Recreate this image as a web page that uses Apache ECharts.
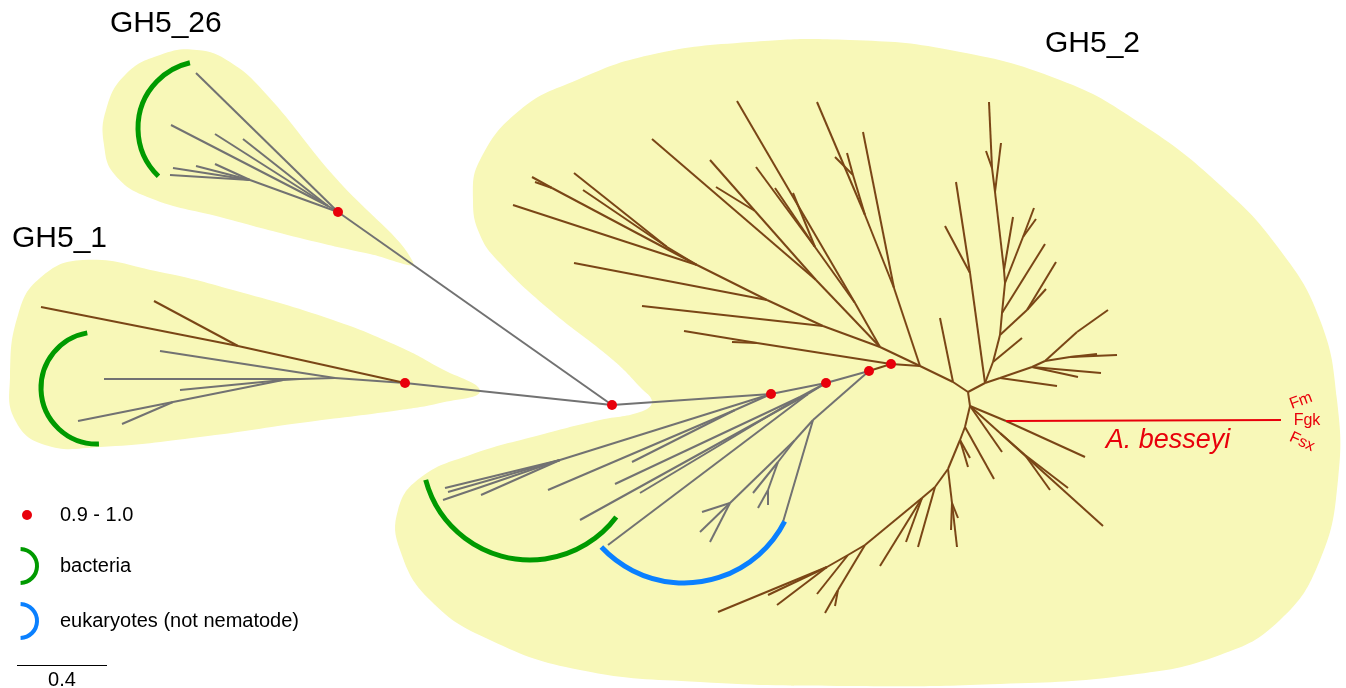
<!DOCTYPE html>
<html>
<head>
<meta charset="utf-8">
<script src="https://cdn.jsdelivr.net/npm/echarts@6/dist/echarts.min.js"></script>
<style>
  html, body { margin: 0; padding: 0; background: #ffffff; }
  #chart { width: 1346px; height: 688px; }
</style>
</head>
<body>
<div id="chart"></div>
<script>
// Unrooted GH5 phylogeny. Node positions are layout coordinates of the
// unrooted tree, centred on the node joining the three subfamilies.
// 90 layout units correspond to 0.4 substitutions per site.
const SUBST_PER_UNIT = 0.4 / 90;
const SCALE_BAR_SUBST = 0.4;

// [node, parent, x, y]
const rootNode = ['C0', null, 0, 0];

const gh5_26Nodes = [
  ['R26', 'C0', -274, 193],
  ['t26a', 'R26', -416, 332],
  ['n26a', 'R26', -284, 199],
  ['t26b', 'n26a', -441, 280],
  ['t26c', 'n26a', -397, 271],
  ['t26d', 'n26a', -369, 266],
  ['n26b', 'R26', -362, 225],
  ['t26e', 'n26b', -439, 237],
  ['t26f', 'n26b', -416, 239],
  ['t26g', 'n26b', -397, 241],
  ['t26h', 'n26b', -442, 230]
];

const gh5_1GrayNodes = [
  ['R1', 'C0', -207, 22],
  ['g1a', 'R1', -277, 27],
  ['t1a', 'g1a', -452, 54],
  ['g1b', 'g1a', -312, 26],
  ['t1b', 'g1b', -508, 26],
  ['g1c', 'g1b', -329, 25],
  ['t1c', 'g1c', -432, 15],
  ['g1d', 'g1c', -439, 3],
  ['t1d', 'g1d', -534, -16],
  ['t1e', 'g1d', -490, -19]
];

const gh5_1BrownNodes = [
  ['b1a', 'R1', -374, 59],
  ['t1f', 'b1a', -571, 98],
  ['t1g', 'b1a', -458, 104]
];

const gh5_2GrayNodes = [
  ['R2a', 'C0', 159, 11],
  ['x2a', 'R2a', -52, -55],
  ['t2a', 'x2a', -167, -83],
  ['t2b', 'x2a', -164, -87],
  ['t2c', 'x2a', -169, -95],
  ['t2d', 'x2a', -131, -90],
  ['x2b', 'R2a', 123, -5],
  ['t2e', 'x2b', -64, -85],
  ['t2f', 'x2b', 20, -57],
  ['R2b', 'R2a', 214, 22],
  ['z2a', 'R2b', 196, 11],
  ['t2g', 'z2a', -32, -115],
  ['t2h', 'z2a', -4, -140],
  ['z2b', 'R2b', 188, 8],
  ['t2i', 'z2b', 3, -79],
  ['t2j', 'z2b', 28, -88],
  ['R2c', 'R2b', 257, 34],
  ['y2a', 'R2c', 201, -15],
  ['t2k', 'y2a', 171, -117],
  ['y2b', 'y2a', 183, -35],
  ['y2c', 'y2b', 166, -57],
  ['t2l', 'y2c', 141, -88],
  ['y2d', 'y2c', 156, -85],
  ['t2m', 'y2d', 156, -100],
  ['t2n', 'y2d', 146, -103],
  ['y2e', 'y2b', 118, -98],
  ['t2o', 'y2e', 90, -107],
  ['t2p', 'y2e', 88, -127],
  ['t2q', 'y2e', 98, -137]
];

const gh5_2BrownNodes = [
  ['R2d', 'R2c', 279, 41],
  ['nA', 'R2d', 145, 62],
  ['u1', 'nA', 72, 74],
  ['u2', 'nA', 120, 63],
  ['nB', 'R2d', 308, 39],
  ['s1', 'nB', 268, 58],
  ['s2', 's1', 211, 79],
  ['u3', 's2', 30, 99],
  ['s3', 's2', 155, 105],
  ['u4', 's3', -38, 142],
  ['s4', 's3', 85, 140],
  ['u5', 's4', -99, 200],
  ['v2', 's4', -60, 217],
  ['u6', 'v2', -80, 228],
  ['u7', 'v2', -77, 223],
  ['v1', 's4', 55, 158],
  ['u8', 'v1', -38, 232],
  ['u9', 'v1', -29, 215],
  ['a1', 's1', 204, 125],
  ['u10', 'a1', 40, 266],
  ['b1', 'a1', 143, 194],
  ['u11', 'b1', 98, 245],
  ['u12', 'b1', 104, 218],
  ['d1', 's1', 243, 102],
  ['u13', 'd1', 125, 304],
  ['e1', 'd1', 203, 158],
  ['u14', 'e1', 144, 238],
  ['u15', 'e1', 163, 217],
  ['u16', 'e1', 181, 212],
  ['g1', 'nB', 282, 117],
  ['u17', 'g1', 251, 273],
  ['h1', 'g1', 253, 190],
  ['u18', 'h1', 205, 303],
  ['h2', 'h1', 241, 230],
  ['u19', 'h2', 223, 248],
  ['u20', 'h2', 235, 252],
  ['k1', 'nB', 341, 23],
  ['u21', 'k1', 328, 87],
  ['G0', 'k1', 356, 13],
  ['M0', 'G0', 373, 22],
  ['p1', 'M0', 358, 132],
  ['u22', 'p1', 344, 223],
  ['u23', 'p1', 333, 179],
  ['q1', 'M0', 381, 43],
  ['u24', 'q1', 410, 67],
  ['q2', 'q1', 388, 70],
  ['q2a', 'q2', 415, 95],
  ['u25', 'q2a', 444, 143],
  ['u26', 'q2a', 434, 116],
  ['q3', 'q2', 390, 92],
  ['u27', 'q3', 433, 161],
  ['q4', 'q3', 393, 122],
  ['q4a', 'q4', 411, 168],
  ['u28', 'q4a', 422, 197],
  ['u29', 'q4a', 424, 186],
  ['q5', 'q4', 392, 135],
  ['u30', 'q5', 401, 188],
  ['q6', 'q5', 383, 213],
  ['u31', 'q6', 389, 262],
  ['q7', 'q6', 380, 237],
  ['u32', 'q7', 377, 303],
  ['u33', 'q7', 374, 254],
  ['r1', 'M0', 388, 27],
  ['u34', 'r1', 445, 19],
  ['r2', 'r1', 420, 38],
  ['u35', 'r2', 489, 32],
  ['u36', 'r2', 466, 28],
  ['r3', 'r2', 433, 44],
  ['r3a', 'r3', 458, 48],
  ['u37', 'r3a', 505, 50],
  ['u38', 'r3a', 485, 51],
  ['r4', 'r3', 465, 73],
  ['u39', 'r4', 496, 95],
  ['L0', 'G0', 358, -1],
  ['nAb', 'L0', 394, -16],
  ['u40', 'nAb', 473, -52],
  ['u41', 'L0', 390, -47],
  ['w1', 'L0', 388, -28],
  ['u42', 'w1', 491, -121],
  ['w2', 'w1', 413, -50],
  ['u43', 'w2', 456, -83],
  ['u44', 'w2', 438, -85],
  ['m1', 'L0', 353, -22],
  ['u45', 'm1', 382, -74],
  ['m2', 'm1', 348, -35],
  ['u46', 'm2', 358, -53],
  ['u47', 'm2', 356, -62],
  ['m3', 'm2', 336, -64],
  ['m3a', 'm3', 340, -98],
  ['u48', 'm3a', 345, -142],
  ['u49', 'm3a', 339, -125],
  ['u50', 'm3a', 346, -113],
  ['m4', 'm3', 323, -82],
  ['u51', 'm4', 306, -142],
  ['m5', 'm4', 310, -93],
  ['u52', 'm5', 294, -137],
  ['u53', 'm5', 268, -161],
  ['m6', 'm5', 253, -140],
  ['m6a', 'm6', 226, -185],
  ['u54', 'm6a', 213, -208],
  ['u55', 'm6a', 223, -201],
  ['m7', 'm6', 236, -150],
  ['u56', 'm7', 205, -189],
  ['m8', 'm7', 215, -162],
  ['u57', 'm8', 106, -207],
  ['u58', 'm8', 165, -200],
  ['u59', 'm8', 156, -190]
];

// Aphelenchoides besseyi sequences (Fm, Fgk, Fsx share one branch)
const besseyiNodes = [
  ['Abes', 'nAb', 669, -15]
];
const besseyiStrains = ['Fm', 'Fgk', 'Fsx'];

// Nodes with posterior support 0.9 - 1.0
const supportedNodes = ['R26', 'R1', 'C0', 'R2a', 'R2b', 'R2c', 'R2d'];

// Subfamily names
const cladeNames = ['GH5_26', 'GH5_1', 'GH5_2'];

// Shaded subfamily outlines, same layout units
const hullGH5_26 = [
  [-199, 143], [-279, 230], [-345, 310], [-382, 343], [-415, 355], [-452, 350],
  [-487, 330], [-506, 295], [-508, 260], [-497, 230], [-462, 207], [-392, 188],
  [-312, 167], [-242, 151]
];
const hullGH5_1 = [
  [-529, 145], [-452, 133], [-379, 115], [-279, 85], [-212, 58], [-172, 37],
  [-132, 14], [-172, 2], [-212, -5], [-312, -18], [-412, -32], [-512, -42],
  [-567, -40], [-597, -15], [-602, 28], [-594, 90], [-572, 127]
];
const hullGH5_2 = [
  [-35, 325], [38, 350], [138, 363], [238, 365], [338, 355], [448, 325],
  [528, 282], [608, 220], [668, 155], [708, 85], [725, 5], [726, -75],
  [708, -155], [668, -215], [608, -250], [518, -270], [388, -279], [238, -281],
  [88, -277], [-32, -265], [-122, -235], [-182, -195], [-212, -145], [-214, -105],
  [-192, -73], [-142, -50], [-72, -30], [-12, -15], [28, -7], [40, 3],
  [28, 18], [1, 45], [-62, 95], [-112, 142], [-132, 170], [-139, 205],
  [-132, 245], [-92, 295]
];

// Clade brackets: [centre x, centre y, radius, start angle, end angle] (screen degrees)
const bacteriaArcs = [
  [-407, 277, 67, 134, 257],
  [-515, 17, 56, 88, 260],
  [-82, -47, 108, 37, 165]
];
const eukaryoteArcs = [
  [72, -65, 113, 27, 137]
];

// ---------------------------------------------------------------------------
const GRAY = '#727272';
const BROWN = '#7a4616';
const RED = '#e8000b';
const GREEN = '#009a00';
const BLUE = '#0a80ff';
const HULL_FILL = '#f8f8b8';
const FONT = '"Liberation Sans", Arial, Helvetica, sans-serif';

const allNodes = [rootNode].concat(gh5_26Nodes, gh5_1GrayNodes, gh5_1BrownNodes,
  gh5_2GrayNodes, gh5_2BrownNodes, besseyiNodes);
const pos = {};
allNodes.forEach(n => { pos[n[0]] = [n[2], n[3]]; });

function edgesOf(nodes) {
  return nodes.map(n => ({ coords: [pos[n[1]], pos[n[0]]] }));
}

const grayEdges = edgesOf(gh5_26Nodes).concat(edgesOf(gh5_1GrayNodes), edgesOf(gh5_2GrayNodes));
const brownEdges = edgesOf(gh5_1BrownNodes).concat(edgesOf(gh5_2BrownNodes));
const redEdges = edgesOf(besseyiNodes);

const hulls = [hullGH5_26, hullGH5_1, hullGH5_2];

// Legend / annotation layout (layout units)
const legendX = -585;
const legendTextX = -552;
const legendRows = [-110, -161, -216];
const scaleBarY = -260;
const scaleBarX0 = -595;
const scaleBarLen = SCALE_BAR_SUBST / SUBST_PER_UNIT;

const besseyiTip = pos['Abes'];
const textMarks = [
  { text: cladeNames[0], at: [-502, 381], size: 30, color: '#000', align: 'left' },
  { text: cladeNames[1], at: [-600, 166], size: 30, color: '#000', align: 'left' },
  { text: cladeNames[2], at: [433, 361], size: 30, color: '#000', align: 'left' },
  { text: 'A. besseyi', at: [556, -35], size: 27, color: RED, align: 'center', italic: true },
  { text: besseyiStrains[0], at: [besseyiTip[0] + 20, besseyiTip[1] + 19], size: 16, color: RED, align: 'center', rot: 20 },
  { text: besseyiStrains[1], at: [besseyiTip[0] + 26, besseyiTip[1] - 1], size: 16, color: RED, align: 'center' },
  { text: besseyiStrains[2], at: [besseyiTip[0] + 21, besseyiTip[1] - 22], size: 16, color: RED, align: 'center', rot: -25 },
  { text: '0.9 - 1.0', at: [legendTextX, legendRows[0]], size: 20, color: '#000', align: 'left' },
  { text: 'bacteria', at: [legendTextX, legendRows[1]], size: 20, color: '#000', align: 'left' },
  { text: 'eukaryotes (not nematode)', at: [legendTextX, legendRows[2]], size: 20, color: '#000', align: 'left' },
  { text: String(SCALE_BAR_SUBST), at: [scaleBarX0 + scaleBarLen / 2, scaleBarY - 15], size: 20, color: '#000', align: 'center' }
];

const legendArcs = [
  [legendX - 7, legendRows[1], 17, -88, 88, GREEN],
  [legendX - 7, legendRows[2], 17, -88, 88, BLUE]
];

const arcItems = bacteriaArcs.map(a => a.concat([GREEN]))
  .concat(eukaryoteArcs.map(a => a.concat([BLUE])));

const chart = echarts.init(document.getElementById('chart'), null, { renderer: 'canvas' });

function lineSeries(data, color, width, z) {
  return {
    type: 'lines', coordinateSystem: 'cartesian2d', data: data, silent: true, z: z,
    polyline: false, animation: false,
    lineStyle: { color: color, width: width, opacity: 1, curveness: 0 }
  };
}

function arcSeries(items, width) {
  return {
    type: 'custom', coordinateSystem: 'cartesian2d', silent: true, z: 4, animation: false,
    data: items.map((a, i) => [a[0], a[1], i]),
    renderItem: function (params, api) {
      const a = items[api.value(2)];
      const c = api.coord([a[0], a[1]]);
      const r = api.size([a[2], 0])[0];
      return {
        type: 'arc',
        shape: { cx: c[0], cy: c[1], r: r, startAngle: a[3] * Math.PI / 180, endAngle: a[4] * Math.PI / 180, clockwise: true },
        style: { stroke: a[5], lineWidth: width, fill: null }
      };
    }
  };
}

const option = {
  backgroundColor: '#ffffff',
  animation: false,
  grid: { left: 0, right: 0, top: 0, bottom: 0 },
  xAxis: { type: 'value', min: -612, max: 734, show: false },
  yAxis: { type: 'value', min: -283, max: 405, show: false },
  series: [
    {
      type: 'custom', coordinateSystem: 'cartesian2d', silent: true, z: 1, animation: false,
      data: hulls.map((h, i) => [h[0][0], h[0][1], i]),
      renderItem: function (params, api) {
        const pts = hulls[api.value(2)].map(p => api.coord(p));
        return { type: 'polygon', shape: { points: pts, smooth: 0.45 }, style: { fill: HULL_FILL } };
      }
    },
    lineSeries(grayEdges, GRAY, 2, 2),
    lineSeries(brownEdges, BROWN, 2, 2),
    lineSeries(redEdges, RED, 2, 3),
    lineSeries([{ coords: [[scaleBarX0, scaleBarY], [scaleBarX0 + scaleBarLen, scaleBarY]] }], '#000', 1, 3),
    arcSeries(arcItems, 5),
    arcSeries(legendArcs, 4),
    {
      type: 'scatter', silent: true, z: 5, animation: false,
      symbol: 'circle', symbolSize: 10,
      itemStyle: { color: RED, opacity: 1 },
      data: supportedNodes.map(id => pos[id]).concat([[legendX, legendRows[0]]])
    },
    {
      type: 'custom', coordinateSystem: 'cartesian2d', silent: true, z: 6, animation: false,
      data: textMarks.map((t, i) => [t.at[0], t.at[1], i]),
      renderItem: function (params, api) {
        const t = textMarks[api.value(2)];
        const p = api.coord(t.at);
        return {
          type: 'text', x: p[0], y: p[1], rotation: (t.rot || 0) * Math.PI / 180,
          style: {
            text: t.text, fill: t.color,
            font: (t.italic ? 'italic ' : '') + t.size + 'px ' + FONT,
            align: t.align, verticalAlign: 'middle'
          }
        };
      }
    }
  ]
};

chart.setOption(option);
</script>
</body>
</html>
